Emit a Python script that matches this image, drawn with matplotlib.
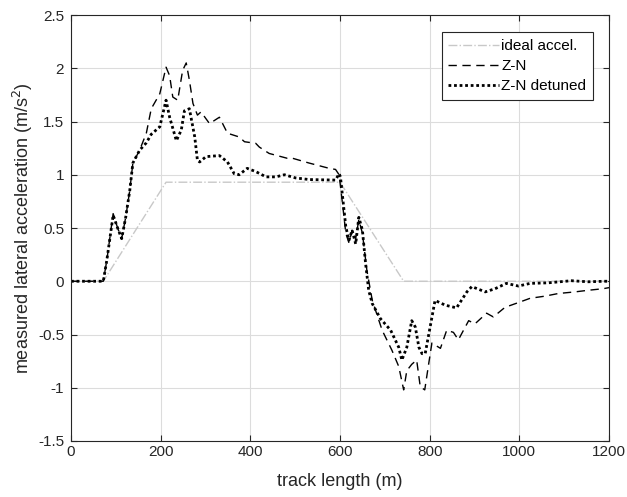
import matplotlib
matplotlib.use("Agg")
import matplotlib.pyplot as plt

plt.rcParams['font.family'] = ['Liberation Sans', 'DejaVu Sans']

# ideal acceleration
ideal_x = [0, 72, 212, 600, 742, 1200]
ideal_y = [0, 0, 0.93, 0.93, 0, 0]

# Z-N (dashed)
zn_x = [0, 72, 80, 94, 104, 113, 122, 131, 138, 153, 168, 179, 198, 212, 220, 227, 238, 249, 257, 264,
        272, 282, 290, 309, 331, 349, 375, 387, 412, 420, 442, 482, 494, 531, 576, 590, 598,
        605, 613, 620, 627, 635, 642, 650, 660, 672, 683, 694, 716, 731, 742, 749, 760, 771, 779,
        789, 798, 805, 824, 838, 853, 864, 887, 901, 927, 942, 968, 998, 1024, 1057, 1087, 1124,
        1153, 1187, 1200]
zn_y = [0, 0, 0.2, 0.635, 0.5, 0.40, 0.6, 0.85, 1.11, 1.23, 1.39, 1.62, 1.76, 2.01, 1.93, 1.73, 1.70, 1.98, 2.05, 1.89,
        1.67, 1.56, 1.59, 1.48, 1.54, 1.39, 1.355, 1.31, 1.295, 1.26, 1.20, 1.155, 1.155, 1.11, 1.06, 1.05, 1.0,
        0.75, 0.45, 0.36, 0.48, 0.40, 0.58, 0.45, 0.10, -0.18, -0.32, -0.46, -0.65, -0.80, -1.02, -0.84, -0.78, -0.74, -0.99,
        -1.02, -0.77, -0.58, -0.63, -0.46, -0.48, -0.55, -0.37, -0.40, -0.30, -0.335, -0.245, -0.20, -0.16, -0.14, -0.115, -0.10,
        -0.085, -0.07, -0.06]

# Z-N detuned (dotted)
znd_x = [0, 72, 80, 94, 104, 113, 122, 131, 138, 153, 168, 179, 198, 212, 220, 235, 246, 253, 264, 276,
         282, 287, 301, 331, 349, 364, 375, 393, 412, 435, 457, 476, 501, 531, 590, 598,
         601, 613, 620, 627, 635, 642, 650, 657, 664, 672, 690, 713, 731, 738, 749, 760, 768, 776,
         783, 790, 801, 812, 835, 860, 883, 894, 924, 946, 971, 998, 1024, 1064, 1116, 1153, 1190, 1200]
znd_y = [0, 0, 0.2, 0.62, 0.5, 0.40, 0.6, 0.85, 1.11, 1.23, 1.30, 1.38, 1.45, 1.70, 1.54, 1.32, 1.42, 1.60, 1.62, 1.355,
         1.135, 1.12, 1.17, 1.18, 1.12, 1.01, 1.00, 1.06, 1.03, 0.98, 0.98, 1.0, 0.97, 0.955, 0.95, 1.01,
         0.98, 0.51, 0.385, 0.48, 0.35, 0.60, 0.48, 0.17, -0.085, -0.21, -0.35, -0.46, -0.62, -0.74, -0.62, -0.37, -0.43, -0.62,
         -0.68, -0.68, -0.43, -0.18, -0.225, -0.25, -0.10, -0.05, -0.10, -0.07, -0.02, -0.045, -0.02, -0.015, 0.005, -0.005, 0.0, 0.0]

fig = plt.figure(figsize=(6.27, 4.97), dpi=100)
ax = fig.add_axes([71/627, 1-441/497, 538/627, 426/497])

ax.plot(ideal_x, ideal_y, color='#c8c8c8', linestyle='-.', linewidth=1.0, label='ideal accel.')
ax.plot(zn_x, zn_y, color='black', linestyle=(0, (6, 4)), linewidth=1.0, label='Z-N')
ax.plot(znd_x, znd_y, color='black', linestyle=(0, (1, 1)), linewidth=2.0, label='Z-N detuned')

ax.set_xlim(0, 1200)
ax.set_ylim(-1.5, 2.5)
ax.set_xticks([0, 200, 400, 600, 800, 1000, 1200])
ax.set_yticks([-1.5, -1, -0.5, 0, 0.5, 1, 1.5, 2, 2.5])
ax.set_yticklabels(['-1.5', '-1', '-0.5', '0', '0.5', '1', '1.5', '2', '2.5'])
ax.grid(True, color='#dcdcdc', linewidth=0.8)
ax.set_axisbelow(True)
ax.tick_params(direction='in', top=True, right=True, length=4, labelsize=11,
               colors='#262626', labelcolor='#262626')
ax.tick_params(axis='y', pad=5)
ax.tick_params(axis='x', pad=3)
for s in ax.spines.values():
    s.set_color('#262626')
    s.set_linewidth(0.8)

ax.set_xlabel('track length (m)', fontsize=13, color='#262626', labelpad=10)
ax.set_ylabel('measured lateral acceleration (m/s$^2$)', fontsize=13, color='#262626', labelpad=2)

leg = ax.legend(loc='upper right', bbox_to_anchor=(593/627, 1-32/497), bbox_transform=fig.transFigure,
                fancybox=False, edgecolor='#262626', framealpha=1, fontsize=11,
                handlelength=3.3, handletextpad=0.15, borderpad=0.45, labelspacing=0.4,
                borderaxespad=0)
leg.get_frame().set_linewidth(0.8)

fig.savefig('out.png', dpi=100)
